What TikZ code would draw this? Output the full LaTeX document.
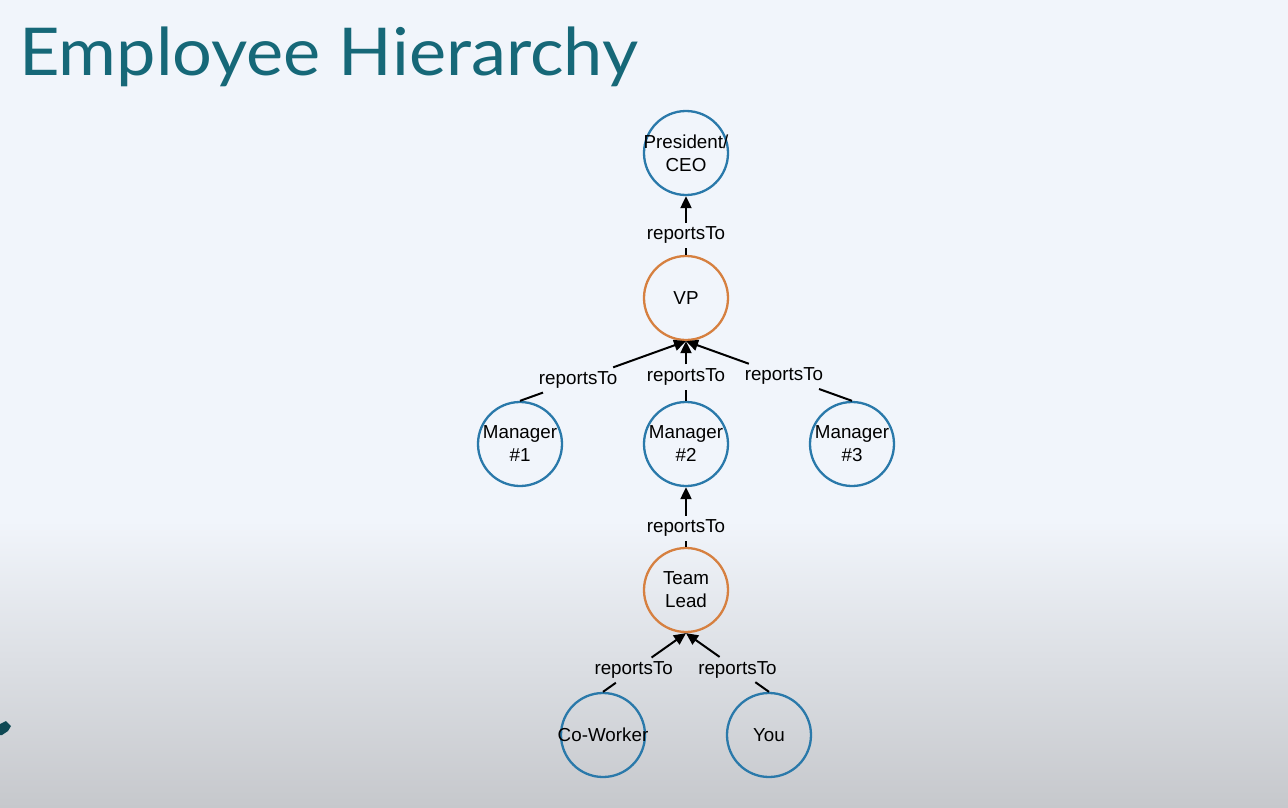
\documentclass[tikz,border=0pt]{standalone}
\usepackage{fontspec}
\setmainfont{Liberation Sans}
\newfontfamily\titlefont{Lato}
\usetikzlibrary{positioning, arrows.meta, shapes.geometric}
\definecolor{bgtop}{RGB}{241,245,251}
\definecolor{bgbot}{RGB}{198,200,204}
\definecolor{titleteal}{RGB}{22,104,120}
\definecolor{nodeblue}{RGB}{42,121,170}
\definecolor{nodeorange}{RGB}{214,128,64}

\tikzset{
  person/.style={circle,draw=nodeblue,line width=2.3pt,minimum size=84pt,inner sep=-10pt,
    align=center,font=\fontsize{18.8}{23}\selectfont},
  lead/.style={person,draw=nodeorange},
  rel/.style={inner sep=4pt,font=\fontsize{18.8}{20}\selectfont},
  link/.style={line width=2pt,black},
}

\begin{document}
\begin{tikzpicture}[x=1pt,y=-1pt,>={Triangle[length=12pt,width=11pt]}]
  % slide background
  \fill[bgtop] (0,0) rectangle (1288,520);
  \shade[top color=bgtop,bottom color=bgbot] (0,520) rectangle (1288,808);
  \useasboundingbox (0,0) rectangle (1288,808);
  \fill[titleteal!70!black] (0,724) -- (6,721) -- (11,726) -- (8,731) -- (2,735) -- (0,735) -- cycle;

  \node[anchor=base west,text=titleteal,inner sep=0pt,
    font=\titlefont\fontsize{66}{70}\selectfont] (title) at (19,76) {\scalebox{1.065}[1]{Employee Hierarchy}};

  % people
  \node[person] (ceo) at (686,153) {President/\\CEO};
  \node[lead] (vp) at (686,298) {VP};
  \node[person] (m1) at (520,444) {Manager\\\#1};
  \node[person] (m2) at (686,444) {Manager\\\#2};
  \node[person] (m3) at (852,444) {Manager\\\#3};
  \node[lead] (tl) at (686,590) {Team\\Lead};
  \node[person] (cw) at (603,735) {Co-Worker};
  \node[person] (you) at (769,735) {You};

  % reportsTo links
  \foreach \src/\dst/\p/\n in {vp.north/ceo.south/0.33/r0, m1.north/vp.south/0.35/r1,
      m2.north/vp.south/0.40/r2, m3.north/vp.south/0.41/r3, tl.north/m2.south/0.31/r4,
      cw.north/tl.south/0.37/r5, you.north/tl.south/0.38/r6} {
    \path (\src) -- node[rel,pos=\p] (\n) {reportsTo} (\dst);
    \draw[link] (\src) -- (\n);
    \draw[link,->] (\n) -- (\dst);
  }
\end{tikzpicture}
\end{document}
